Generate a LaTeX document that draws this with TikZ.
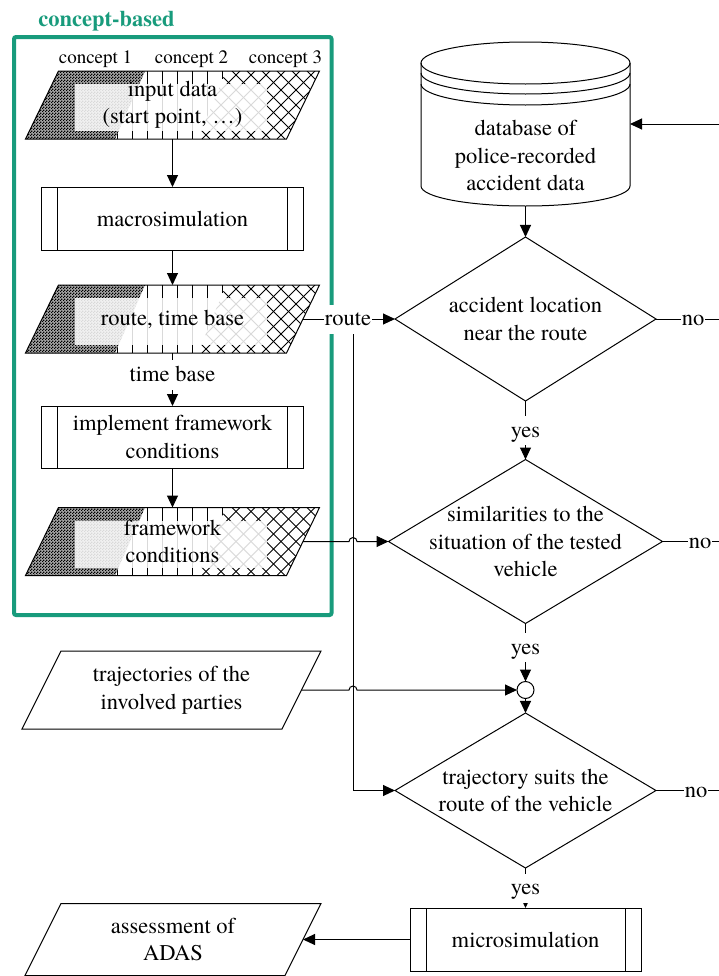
\documentclass[tikz,border=0pt]{standalone}
\usepackage{fontspec}
\setmainfont{texgyretermes}[Extension=.otf, UprightFont=*-regular, BoldFont=*-bold, ItalicFont=*-italic, BoldItalicFont=*-bolditalic]
\usetikzlibrary{arrows.meta,shapes.geometric,calc,patterns}

\definecolor{conceptgreen}{RGB}{24,155,124}

% fine checkerboard used for the first concept band
\pgfdeclarepatternformonly{finecheck}{\pgfpointorigin}{\pgfqpoint{3bp}{3bp}}{\pgfqpoint{3bp}{3bp}}{%
  \pgfpathrectangle{\pgfpointorigin}{\pgfqpoint{1.5bp}{1.5bp}}%
  \pgfpathrectangle{\pgfqpoint{1.5bp}{1.5bp}}{\pgfqpoint{1.5bp}{1.5bp}}%
  \pgfusepath{fill}}

\tikzset{
  lw/.style={line width=1bp},
  txt/.style={font=\fontsize{22.5bp}{27.5bp}\selectfont, align=center, inner sep=0pt, outer sep=0pt},
  small/.style={font=\fontsize{19bp}{23bp}\selectfont, inner sep=0pt},
  procbox/.style={txt, draw, lw, rectangle,
    path picture={\draw[lw]
      ([xshift=16bp]path picture bounding box.north west) -- ([xshift=16bp]path picture bounding box.south west)
      ([xshift=-16bp]path picture bounding box.north east) -- ([xshift=-16bp]path picture bounding box.south east);}},
  decision/.style={txt, draw, lw, diamond, inner sep=-15bp},
  lbl/.style={txt, fill=white, inner xsep=1bp, inner ysep=1bp, text height=20bp, text depth=7bp},
  flow/.style={lw, -{Triangle[length=12bp,width=11bp]}},
}

% outline of a slanted data box around a (rectangular) node; #2 = half of the slant
\newcommand\paraline[2]{%
  \draw[lw] ($(#1.north west)+(#2,0)$) -- ($(#1.north east)+(#2,0)$)
    -- ($(#1.south east)-(#2,0)$) -- ($(#1.south west)-(#2,0)$) -- cycle;}

% data box split into the three concept bands; #1 name, #2 centre y, #3 text
\newcommand\conceptpara[3]{%
  \pgfmathsetmacro\ytop{#2-34}%
  \pgfmathsetmacro\ybot{#2+34}%
  \fill[black!35] (58.5,\ytop) -- (145,\ytop) -- (115,\ybot) -- (25.5,\ybot) -- cycle;
  \fill[pattern=finecheck] (58.5,\ytop) -- (145,\ytop) -- (115,\ybot) -- (25.5,\ybot) -- cycle;
  \begin{scope}
    \clip (145,\ytop) -- (226,\ytop) -- (198,\ybot) -- (115,\ybot) -- cycle;
    \foreach \vx in {117,132,...,222} \draw[line width=1bp] (\vx,\ytop) -- (\vx,\ybot);
  \end{scope}
  \begin{scope}
    \clip (226,\ytop) -- (319.5,\ytop) -- (286.5,\ybot) -- (198,\ybot) -- cycle;
    \foreach \dx in {120,135,...,390} {
      \draw[line width=1bp] (\dx,\ytop) -- ++(-68,68);
      \draw[line width=1bp] (\dx-68,\ytop) -- ++(68,68);}
  \end{scope}
  \fill[white, fill opacity=0.85] (75,\ytop+13) rectangle (267,\ybot-8);
  \node[txt, minimum width=261bp, minimum height=68bp] (#1) at (172.5,#2) {#3};
  \paraline{#1}{16.5}}

\begin{document}
\begin{tikzpicture}[x=1bp, y=-1bp]
\useasboundingbox (0,0) rectangle (719,976);

% concept-based group
\draw[conceptgreen, line width=4bp, rounded corners=2bp] (14,37) rectangle (331.5,615);
\node[txt, font=\bfseries\fontsize{22.5bp}{27.5bp}\selectfont, text=conceptgreen] (cb) at (106.5,21) {concept-based};

\node[small] (c1) at (95.5,59) {concept 1};
\node[small] (c2) at (191.5,59) {concept 2};
\node[small] (c3) at (285.5,59) {concept 3};

\conceptpara{input}{105}{input data\\(start point, \ldots)}
\node[procbox, minimum width=261bp, minimum height=63bp] (macro) at (172.5,218.5) {macrosimulation};
\conceptpara{route}{319}{route, time base}
\node[procbox, minimum width=261bp, minimum height=62bp] (impl) at (172.5,437) {implement framework\\conditions};
\conceptpara{fw}{541.5}{framework\\conditions}

% further data boxes
\node[txt, minimum width=260bp, minimum height=78bp] (traj) at (171.5,690) {trajectories of the\\involved parties};
\paraline{traj}{19.5}
\node[txt, minimum width=260bp, minimum height=72bp] (assess) at (173,939.5) {assessment of\\ADAS};
\paraline{assess}{18}

% accident database
\node[txt, minimum width=209bp, minimum height=164bp] (db) at (525.5,124) {};
\draw[lw] (525.5,63) ellipse [x radius=104.5, y radius=21];
\draw[lw] (421,73) arc [start angle=180, end angle=0, x radius=104.5, y radius=21];
\draw[lw] (421,84) arc [start angle=180, end angle=0, x radius=104.5, y radius=21];
\draw[lw] (421,63) -- (421,186) arc [start angle=180, end angle=0, x radius=104.5, y radius=20] -- (630,63);
\node[txt] (dbtext) at (525.5,155.5) {database of\\police-recorded\\accident data};

% decisions and processing
\node[decision, aspect=1.59, minimum width=261bp, minimum height=164bp] (d1) at (525.5,319) {accident location\\near the route};
\node[decision, aspect=1.67, minimum width=274bp, minimum height=164bp] (d2) at (525.5,541.5) {similarities to the\\situation of the tested\\vehicle};
\node[draw, lw, circle, minimum size=17bp, inner sep=0pt, outer sep=0pt] (join) at (525.5,690) {};
\node[decision, aspect=1.68, minimum width=261bp, minimum height=155bp] (d3) at (525.5,790.5) {trajectory suits the\\route of the vehicle};
\node[procbox, minimum width=231bp, minimum height=63bp] (micro) at (525.5,939.5) {microsimulation};

% left column flow
\draw[flow] (input) -- (macro);
\draw[flow] (macro) -- (route);
\draw[flow] (route) -- node[lbl, pos=0.415] {time base} (impl);
\draw[flow] (impl) -- (fw);

% route branch
\coordinate (split) at (353,319);
\draw[flow] (split) |- (d3.west);
\draw[flow] (route.east) -- node[lbl, pos=0.49] {route} (d1.west);
\draw[flow] (fw.east) -- ($(split |- fw.east)+(-4,0)$) arc [start angle=180, end angle=360, radius=4] -- (d2.west);
\draw[flow] (traj.east) -- ($(split |- traj.east)+(-4,0)$) arc [start angle=180, end angle=360, radius=4] -- (join.west);

% right column flow
\draw[flow] (db) -- (d1);
\draw[flow] (d1) -- node[lbl, pos=0.51] {yes} (d2);
\draw[flow] (d2) -- node[lbl, pos=0.42] {yes} (join);
\draw[flow] (join) -- (d3);
\draw[flow] (d3) -- node[lbl, pos=0.5] {yes} (micro);
\draw[flow] (micro) -- (assess);

% feedback lines leaving to the right
\coordinate (e0) at (720,124);
\coordinate (e1) at (720,319);
\coordinate (e2) at (720,541.5);
\coordinate (e3) at (720,790.5);
\draw[flow] (e0) -- (db.east);
\draw[lw] (d1.east) -- node[lbl, pos=0.58] {no} (e1);
\draw[lw] (d2.east) -- node[lbl, pos=0.655] {no} (e2);
\draw[lw] (d3.east) -- node[lbl, pos=0.625] {no} (e3);
\end{tikzpicture}
\end{document}
